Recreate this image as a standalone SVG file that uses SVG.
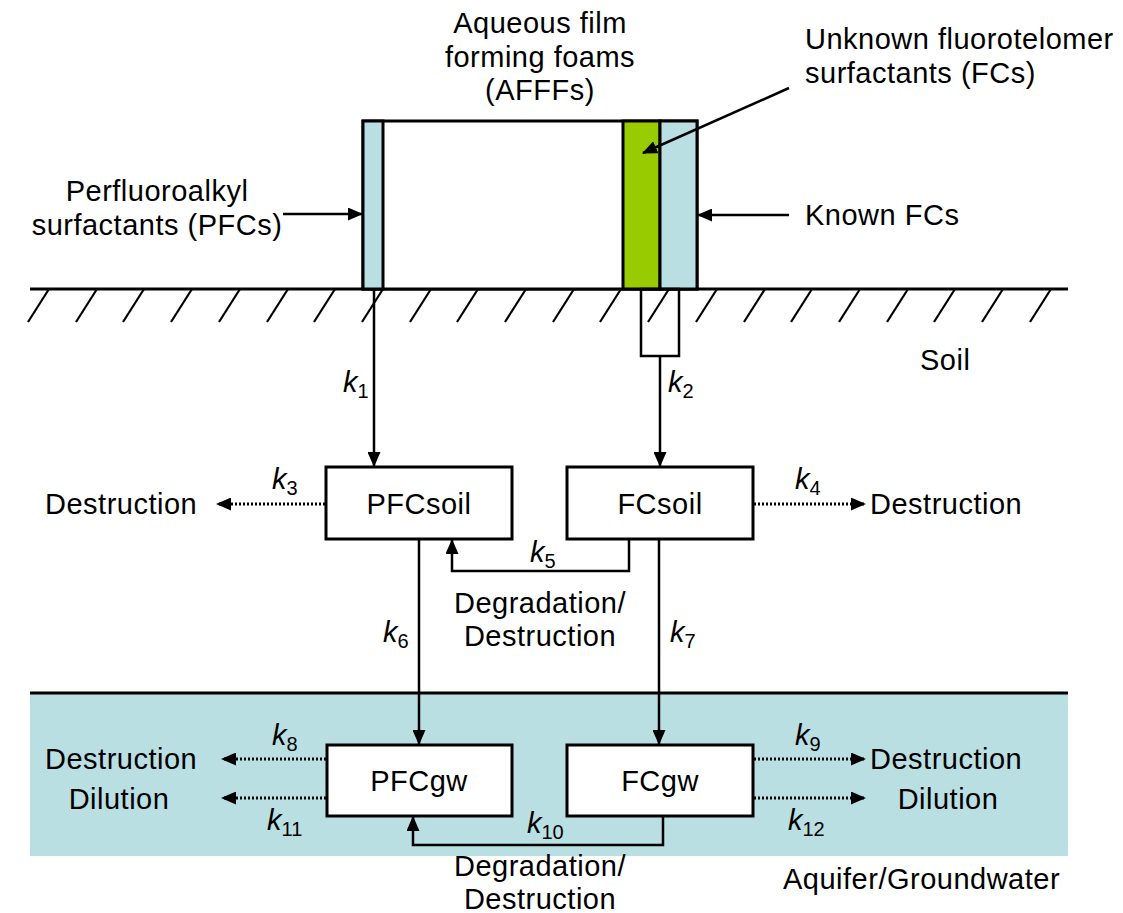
<svg xmlns="http://www.w3.org/2000/svg" width="1123" height="913" viewBox="0 0 1123 913">
<defs>
<style>
text{font-family:"Liberation Sans",Arial,sans-serif;font-size:29px;fill:#000;letter-spacing:0.5px}
.c{text-anchor:middle}
.k{font-size:29px;letter-spacing:0}
.k .i{font-style:italic}
.k .s{font-size:20px}
.ln{stroke:#000;stroke-width:2.5;fill:none}
.ar{marker-end:url(#ah)}
.dt{stroke:#000;stroke-width:3;fill:none;stroke-dasharray:2 2;marker-end:url(#ah)}
.bx{fill:#fff;stroke:#000;stroke-width:3}
.bl{fill:#BADFE3;stroke:#000;stroke-width:3}
.gr{fill:#99CC00;stroke:#000;stroke-width:3}
.ht{stroke:#000;stroke-width:2.2}
</style>
<marker id="ah" viewBox="0 0 15 13" refX="14" refY="6.5" markerWidth="15" markerHeight="13" markerUnits="userSpaceOnUse" orient="auto">
<path d="M0,0 L15,6.5 L0,13 z" fill="#000"/>
</marker>
</defs>

<g id="groundwater-zone">
<rect x="30" y="693" width="1038" height="163" fill="#BADFE3"/>
<line x1="30" y1="693" x2="1068" y2="693" stroke="#000" stroke-width="3"/>
</g>

<g id="ground-hatch">
<line class="ht" x1="49" y1="289" x2="28" y2="322"/>
<line class="ht" x1="97" y1="289" x2="76" y2="322"/>
<line class="ht" x1="144" y1="289" x2="123" y2="322"/>
<line class="ht" x1="192" y1="289" x2="171" y2="322"/>
<line class="ht" x1="240" y1="289" x2="219" y2="322"/>
<line class="ht" x1="288" y1="289" x2="267" y2="322"/>
<line class="ht" x1="335" y1="289" x2="314" y2="322"/>
<line class="ht" x1="383" y1="289" x2="362" y2="322"/>
<line class="ht" x1="431" y1="289" x2="410" y2="322"/>
<line class="ht" x1="478" y1="289" x2="457" y2="322"/>
<line class="ht" x1="526" y1="289" x2="505" y2="322"/>
<line class="ht" x1="574" y1="289" x2="553" y2="322"/>
<line class="ht" x1="621" y1="289" x2="600" y2="322"/>
<line class="ht" x1="669" y1="289" x2="648" y2="322"/>
<line class="ht" x1="717" y1="289" x2="696" y2="322"/>
<line class="ht" x1="765" y1="289" x2="744" y2="322"/>
<line class="ht" x1="812" y1="289" x2="791" y2="322"/>
<line class="ht" x1="860" y1="289" x2="839" y2="322"/>
<line class="ht" x1="908" y1="289" x2="887" y2="322"/>
<line class="ht" x1="955" y1="289" x2="934" y2="322"/>
<line class="ht" x1="1003" y1="289" x2="982" y2="322"/>
<line class="ht" x1="1051" y1="289" x2="1030" y2="322"/>
<line x1="30" y1="289" x2="1068" y2="289" stroke="#000" stroke-width="3"/>
</g>

<g id="afff">
<rect class="bx" x="363" y="121" width="334" height="168"/>
<rect class="bl" x="363" y="121" width="20" height="168"/>
<rect class="gr" x="623" y="121" width="37" height="168"/>
<rect class="bl" x="660" y="121" width="37" height="168"/>
<rect x="641" y="289" width="38" height="67" fill="none" stroke="#000" stroke-width="2.5"/>
<text class="c" x="540" y="33">Aqueous film</text>
<text class="c" x="540" y="67">forming foams</text>
<text class="c" x="540" y="100">(AFFFs)</text>
</g>

<g id="labels">
<text x="805" y="49">Unknown fluorotelomer</text>
<text x="805" y="83">surfactants (FCs)</text>
<text x="805" y="225">Known FCs</text>
<text class="c" x="157" y="201">Perfluoroalkyl</text>
<text class="c" x="157" y="235">surfactants (PFCs)</text>
<text x="920" y="370">Soil</text>
<text x="783" y="889">Aquifer/Groundwater</text>
</g>

<g id="connectors">
<line class="ln ar" x1="789" y1="88" x2="643" y2="153"/>
<line class="ln ar" x1="789" y1="215" x2="698" y2="215"/>
<line class="ln ar" x1="283" y1="214" x2="362" y2="214"/>
<line class="ln ar" x1="374" y1="289" x2="374" y2="466"/>
<line class="ln ar" x1="660" y1="356" x2="660" y2="466"/>
<line class="dt" x1="325" y1="504" x2="217" y2="504"/>
<line class="dt" x1="754" y1="504" x2="865" y2="504"/>
<path class="ln ar" d="M629,539 V571 H452 V540"/>
<line class="ln ar" x1="419" y1="539" x2="419" y2="744"/>
<line class="ln ar" x1="659" y1="539" x2="659" y2="744"/>
<line class="dt" x1="326" y1="759" x2="222" y2="759"/>
<line class="dt" x1="326" y1="798" x2="222" y2="798"/>
<line class="dt" x1="754" y1="759" x2="865" y2="759"/>
<line class="dt" x1="754" y1="798" x2="865" y2="798"/>
<path class="ln ar" d="M663,816 V845 H413 V817"/>
</g>

<g id="PFCsoil">
<rect class="bx" x="326" y="467" width="186" height="72"/>
<text class="c" x="419" y="514">PFCsoil</text>
</g>
<g id="FCsoil">
<rect class="bx" x="567" y="467" width="186" height="72"/>
<text class="c" x="660" y="514">FCsoil</text>
</g>
<g id="PFCgw">
<rect class="bx" x="327" y="745" width="185" height="71"/>
<text class="c" x="419" y="791">PFCgw</text>
</g>
<g id="FCgw">
<rect class="bx" x="567" y="745" width="186" height="71"/>
<text class="c" x="660" y="791">FCgw</text>
</g>

<g id="outcomes">
<text x="45" y="514">Destruction</text>
<text x="870" y="514">Destruction</text>
<text class="c" x="540" y="613">Degradation/</text>
<text class="c" x="540" y="646">Destruction</text>
<text x="45" y="769">Destruction</text>
<text class="c" x="119" y="809">Dilution</text>
<text x="870" y="769">Destruction</text>
<text class="c" x="948" y="809">Dilution</text>
<text class="c" x="540" y="876">Degradation/</text>
<text class="c" x="540" y="909">Destruction</text>
</g>

<g id="rates">
<text class="k" x="343" y="392"><tspan class="i">k</tspan><tspan class="s" dy="6">1</tspan></text>
<text class="k" x="668" y="392"><tspan class="i">k</tspan><tspan class="s" dy="6">2</tspan></text>
<text class="k" x="272" y="489"><tspan class="i">k</tspan><tspan class="s" dy="6">3</tspan></text>
<text class="k" x="795" y="489"><tspan class="i">k</tspan><tspan class="s" dy="6">4</tspan></text>
<text class="k" x="530" y="562"><tspan class="i">k</tspan><tspan class="s" dy="6">5</tspan></text>
<text class="k" x="383" y="642"><tspan class="i">k</tspan><tspan class="s" dy="6">6</tspan></text>
<text class="k" x="670" y="642"><tspan class="i">k</tspan><tspan class="s" dy="6">7</tspan></text>
<text class="k" x="272" y="745"><tspan class="i">k</tspan><tspan class="s" dy="6">8</tspan></text>
<text class="k" x="795" y="745"><tspan class="i">k</tspan><tspan class="s" dy="6">9</tspan></text>
<text class="k" x="527" y="833"><tspan class="i">k</tspan><tspan class="s" dy="6">10</tspan></text>
<text class="k" x="267" y="830"><tspan class="i">k</tspan><tspan class="s" dy="6">11</tspan></text>
<text class="k" x="788" y="830"><tspan class="i">k</tspan><tspan class="s" dy="6">12</tspan></text>
</g>
</svg>
